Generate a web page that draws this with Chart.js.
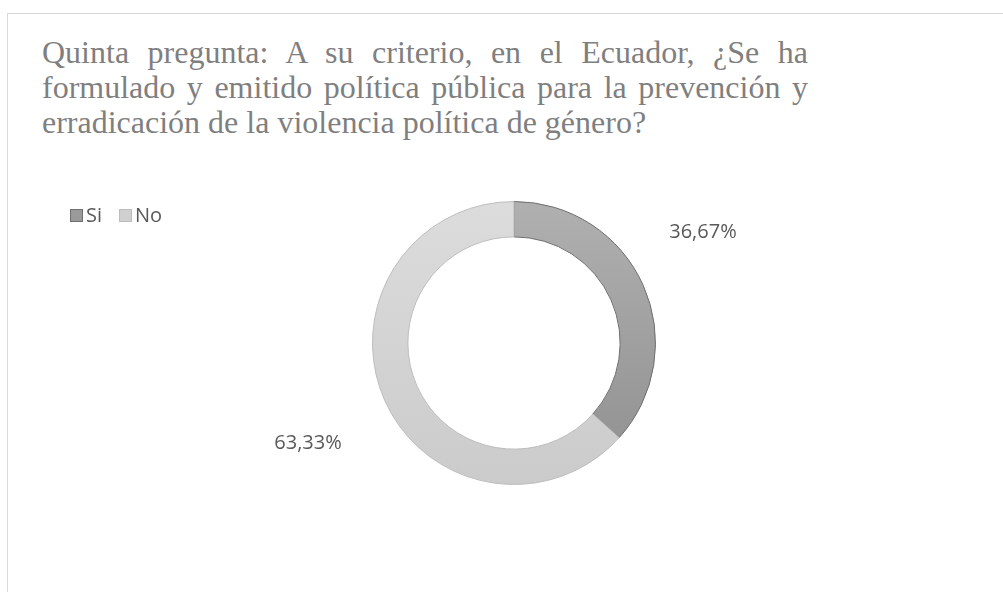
<!DOCTYPE html>
<html lang="es">
<head>
<meta charset="utf-8">
<title>Quinta pregunta</title>
<script src="https://cdn.jsdelivr.net/npm/chart.js@4.4.0/dist/chart.umd.min.js"></script>
<style>
    html, body { margin: 0; padding: 0; background: #fff; overflow: hidden; }
    #wrap { position: relative; width: 1003px; height: 592px; }
    #frame {
        position: absolute; left: 7px; top: 13px; width: 1100px; height: 700px;
        border-left: 1px solid #d9d9d9; border-top: 1px solid #d9d9d9;
    }
    #title {
        position: absolute; left: 42px; top: 35px; width: 766px;
        font-family: "Liberation Serif", "Times New Roman", serif;
        font-size: 32px; line-height: 35px; color: #7f7f7f;
    }
    #title .j { text-align: justify; text-align-last: justify; white-space: nowrap; }
    #chart { position: absolute; left: 0; top: 0; }
</style>
</head>
<body>
<div id="wrap">
    <div id="frame"></div>
    <div id="title">
        <div class="j">Quinta pregunta: A su criterio, en el Ecuador, ¿Se ha</div>
        <div class="j">formulado y emitido política pública para la prevención y</div>
        <div>erradicación de la violencia política de género?</div>
    </div>
    <canvas id="chart" width="1003" height="592"></canvas>
</div>
<script>
    // Data
    const categories = ['Si', 'No'];
    const percentages = [36.67, 63.33];
    const valueLabels = ['36,67%', '63,33%'];

    // Colors (top / bottom of the gradient)
    const fillTop = ['#b0b0b0', '#dcdcdc'];
    const fillBottom = ['#8f8f8f', '#cbcbcb'];
    const edgeColors = ['#6f6f6f', '#bdbdbd'];
    const swatchColors = ['#9a9a9a', '#d0d0d0'];

    const sliceFill = (ctx) => {
        const chart = ctx.chart;
        const area = chart.chartArea;
        if (!area) return fillTop[ctx.dataIndex];
        const g = chart.ctx.createLinearGradient(0, area.top, 0, area.bottom);
        g.addColorStop(0, fillTop[ctx.dataIndex]);
        g.addColorStop(1, fillBottom[ctx.dataIndex]);
        return g;
    };

    // legend drawn at the upper left, like the original
    const legendPlugin = {
        id: 'sideLegend',
        afterDraw(chart) {
            const c = chart.ctx;
            c.save();
            c.font = '20px "Open Sans", sans-serif';
            c.textBaseline = 'middle';
            let x = 70;
            const y = 215;
            categories.forEach((name, i) => {
                c.fillStyle = swatchColors[i];
                c.fillRect(x, y - 6, 13, 13);
                c.strokeStyle = edgeColors[i];
                c.lineWidth = 1;
                c.strokeRect(x + 0.5, y - 5.5, 12, 12);
                c.fillStyle = '#595959';
                c.textAlign = 'left';
                c.fillText(name, x + 16, y + 1);
                x += 16 + c.measureText(name).width + 17;
            });
            c.restore();
        }
    };

    // percentage labels outside the ring
    const outsideLabels = {
        id: 'outsideLabels',
        afterDatasetsDraw(chart, args, opts) {
            const c = chart.ctx;
            const meta = chart.getDatasetMeta(0);
            c.save();
            c.font = '20px "Open Sans", sans-serif';
            c.fillStyle = '#595959';
            c.textAlign = 'center';
            c.textBaseline = 'middle';
            meta.data.forEach((arc, i) => {
                const p = arc.getProps(['x', 'y', 'startAngle', 'endAngle', 'outerRadius'], true);
                const mid = (p.startAngle + p.endAngle) / 2;
                const r = p.outerRadius * opts.distance;
                const n = opts.nudge[i];
                c.fillText(valueLabels[i], p.x + Math.cos(mid) * r + n[0], p.y + Math.sin(mid) * r + n[1]);
            });
            c.restore();
        }
    };

    new Chart(document.getElementById('chart'), {
        type: 'doughnut',
        data: {
            labels: categories,
            datasets: [{
                data: percentages,
                backgroundColor: sliceFill,
                borderColor: edgeColors,
                borderWidth: 1
            }]
        },
        options: {
            responsive: false,
            animation: false,
            cutout: '75%',
            layout: { padding: { top: 201, bottom: 107, left: 214, right: 189 } },
            plugins: {
                legend: { display: false },
                tooltip: { enabled: false },
                outsideLabels: { distance: 1.57, nudge: [[-14, -20], [-3, 10]] }
            }
        },
        plugins: [legendPlugin, outsideLabels]
    });
</script>
</body>
</html>
